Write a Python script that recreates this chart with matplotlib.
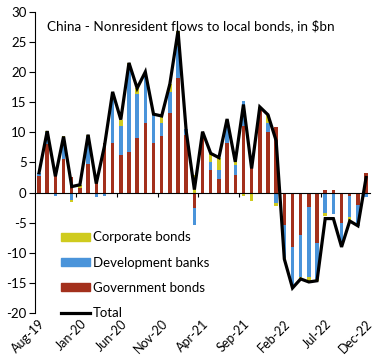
import matplotlib
matplotlib.use("Agg")
import matplotlib.pyplot as plt
import numpy as np
from matplotlib.patches import Patch
from matplotlib.lines import Line2D

plt.rcParams['font.family'] = ['Lato', 'DejaVu Sans']
plt.rcParams['axes.unicode_minus'] = False

months = ["Aug-19","Sep-19","Oct-19","Nov-19","Dec-19","Jan-20","Feb-20","Mar-20","Apr-20","May-20",
          "Jun-20","Jul-20","Aug-20","Sep-20","Oct-20","Nov-20","Dec-20","Jan-21","Feb-21","Mar-21",
          "Apr-21","May-21","Jun-21","Jul-21","Aug-21","Sep-21","Oct-21","Nov-21","Dec-21","Jan-22",
          "Feb-22","Mar-22","Apr-22","May-22","Jun-22","Jul-22","Aug-22","Sep-22","Oct-22","Nov-22","Dec-22"]
gov = [2.7, 8.0, 3.0, 5.5, 2.6, 0.8, 4.8, 2.3, 8.2, 8.2,
       6.3, 6.8, 9.0, 11.5, 8.2, 9.3, 13.2, 19.0, 9.5, -2.5,
       9.3, 3.8, 2.2, 8.3, 3.0, 11.0, 4.3, 13.8, 10.0, 10.8,
       -5.3, -9.0, -7.0, -2.3, -8.3, 0.5, 0.5, -5.0, -0.5, -2.0, 3.2]
dev = [0.6, 2.0, -0.6, 3.5, -1.3, 0.0, 4.5, -0.8, -0.5, 8.2,
       4.8, 14.4, 7.4, 8.2, 4.7, 2.3, 3.5, 5.3, 1.0, -2.8,
       0.5, 1.3, 1.6, 3.0, 1.5, 4.1, 0.3, 0.3, 1.5, -1.7,
       -5.5, -6.5, -7.0, -11.7, -6.0, -3.3, -3.5, -4.0, -3.5, -3.5, -0.8]
corp = [0.0, 0.2, 0.2, 0.3, -0.3, 0.5, 0.3, 0.0, 0.0, 0.3,
        1.0, 0.3, 0.9, 0.3, 0.2, 1.0, 1.3, 2.5, 0.0, 3.0,
        0.2, 1.3, 1.9, 0.7, 0.6, -0.5, -1.4, 0.1, 1.4, -0.5,
        -0.2, -0.3, -0.5, -0.8, -0.3, -0.6, 0.0, 0.0, -0.8, 0.0, 0.0]
total = [3.3, 10.2, 2.7, 9.3, 1.0, 1.3, 9.6, 1.5, 7.7, 16.7,
         12.1, 21.5, 17.3, 20.0, 13.0, 12.7, 18.0, 26.8, 10.2, 0.5,
         10.1, 6.5, 5.8, 12.2, 5.1, 14.6, 4.0, 14.2, 12.9, 8.6,
         -11.0, -15.8, -14.3, -14.8, -14.6, -4.3, -4.3, -9.0, -4.7, -5.5, 2.5]

c_gov = "#A3301C"
c_dev = "#4A94DA"
c_corp = "#CFCB1E"

fig = plt.figure(figsize=(3.84, 3.61), dpi=100)
ax = fig.add_axes([0.091, 0.132, 0.873, 0.836])

x = np.arange(len(months))
pos = np.zeros(len(months))
neg = np.zeros(len(months))
w = 0.42
for vals, col in [(gov, c_gov), (dev, c_dev), (corp, c_corp)]:
    v = np.array(vals)
    bottom = np.where(v >= 0, pos, neg)
    ax.bar(x, v, w, bottom=bottom, color=col, linewidth=0)
    pos = pos + np.where(v >= 0, v, 0)
    neg = neg + np.where(v < 0, v, 0)

ax.plot(x, total, color="black", lw=2.3, solid_joinstyle='miter')

ax.set_xlim(-0.5, len(months) - 0.5)
ax.set_ylim(-20, 30)
ax.set_yticks(np.arange(-20, 31, 5))
ax.tick_params(axis='y', direction='out', length=4, width=0.8, labelsize=9.5, pad=2)

for s in ['top', 'right']:
    ax.spines[s].set_visible(False)
ax.spines['bottom'].set_position(('data', 0))
ax.spines['left'].set_linewidth(0.8)
ax.spines['bottom'].set_linewidth(0.8)
ax.set_xticks(np.arange(4.5, len(months) - 0.5, 5))
ax.tick_params(axis='x', direction='out', length=3, width=0.8, labelbottom=False)

sec = ax.secondary_xaxis(0)
sec.set_xticks(x[::5])
sec.set_xticklabels(months[::5], rotation=45, ha='right', rotation_mode='anchor', fontsize=9)
sec.tick_params(length=0, pad=3)
sec.spines['bottom'].set_visible(False)

ax.text(0.035, 0.975, "China - Nonresident flows to local bonds, in $bn", transform=ax.transAxes,
        fontsize=9.7, va='top', ha='left')

handles = [Patch(color=c_corp), Patch(color=c_dev), Patch(color=c_gov),
           Line2D([0], [0], color='black', lw=2.3)]
labels = ["Corporate bonds", "Development banks", "Government bonds", "Total"]
ax.legend(handles, labels, loc='lower left', bbox_to_anchor=(0.055, -0.045), frameon=False,
          fontsize=9.5, handlelength=2.2, handleheight=0.6, handletextpad=0.2, labelspacing=1.0,
          borderaxespad=0.2)

fig.savefig("out.png", dpi=100)
